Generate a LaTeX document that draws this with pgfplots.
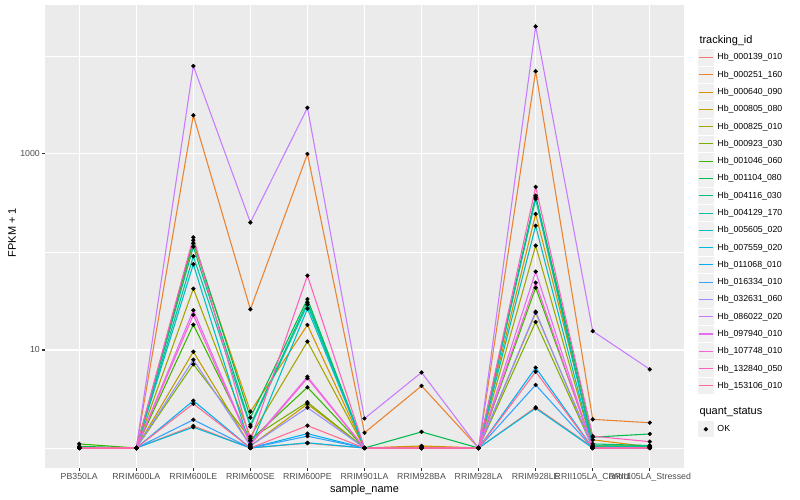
\documentclass[border=0pt]{standalone}
\usepackage{fontspec}
\setmainfont{Liberation Sans}
\usepackage{pgfplots}
\usepackage{pgfplotstable}
\pgfplotsset{compat=1.18}

% ggplot hue palette, 20 levels
\definecolor{c1}{HTML}{F8766D}
\definecolor{c2}{HTML}{EA8331}
\definecolor{c3}{HTML}{D89000}
\definecolor{c4}{HTML}{C09B00}
\definecolor{c5}{HTML}{A3A500}
\definecolor{c6}{HTML}{7CAE00}
\definecolor{c7}{HTML}{39B600}
\definecolor{c8}{HTML}{00BB4E}
\definecolor{c9}{HTML}{00BF7D}
\definecolor{c10}{HTML}{00C1A3}
\definecolor{c11}{HTML}{00BFC4}
\definecolor{c12}{HTML}{00BAE0}
\definecolor{c13}{HTML}{00B0F6}
\definecolor{c14}{HTML}{35A2FF}
\definecolor{c15}{HTML}{9590FF}
\definecolor{c16}{HTML}{C77CFF}
\definecolor{c17}{HTML}{E76BF3}
\definecolor{c18}{HTML}{FA62DB}
\definecolor{c19}{HTML}{FF62BC}
\definecolor{c20}{HTML}{FF6C91}
\definecolor{panelbg}{HTML}{EBEBEB}
\definecolor{keybg}{HTML}{F0F0F0}
\definecolor{grey30}{HTML}{4D4D4D}
\definecolor{grey20}{HTML}{333333}

% FPKM + 1, one row per sample, one column per tracking_id
\pgfplotstableread{
x  s1   s2    s3   s4   s5   s6   s7   s8   s9   s10  s11  s12  s13  s14  s15  s16   s17  s18  s19  s20
0  1    1     1    1    1    1    1.1  1.04 1    1    1    1    1    1    1    1     1    1    1    1
1  1    1     1    1    1    1    1    1    1    1    1    1    1    1    1    1     1    1    1    1
2  1.68 2480  123  9.6  42.2 7.15 18.1 132  113  90.4 74.9 1.63 3.04 1.94 7.96 7900  25.4 22.8 141  2.83
3  1.0  26    2.35 1.05 1.30 1.24 1.2  2.04 1.72 1.65 1.03 1.0  1.0  1.0  1.05 200   1.10 1.08 1.18 1.0
4  1.12 1000  18.0 2.81 12.2 2.93 4.16 33.1 30.7 29.0 26.4 1.13 1.40 1.32 2.58 2960  5.34 5.15 57.3 1.69
5  1    1.43  1    1    1    1    1    1    1    1    1    1    1    1    1    2.0   1    1    1    1
6  1    4.3   1.05 1.03 1    1    1    1.46 1    1    1    1    1    1    1    5.9   1    1    1    1
7  1    1     1    1    1    1    1    1    1    1    1    1    1    1    1    1     1    1    1    1
8  2.60 6980  244  24.0 116  19.3 43.2 375  362  347  185  2.54 6.6  4.4  24.6 20000 63   48.6 461  6.0
9  1.02 1.96  1.21 1.04 1.03 1.01 1.05 1.29 1.1  1.05 1.02 1.0  1.0  1.0  1.0  15.6  1.0  1.0  1.32 1.0
10 1.02 1.81  1.03 1.05 1.04 1.03 1.05 1.39 1.06 1.02 1.02 1.0  1.0  1.0  1.0  6.35  1.01 1.0  1.16 1.0
}\fpkm

\begin{document}
\begin{tikzpicture}
\useasboundingbox (0,0) rectangle (800bp,500bp);
\begin{axis}[
    at={(45bp,32bp)}, anchor=south west,
    scale only axis,
    width=639bp, height=463bp,
    ymode=log,
    xmin=-0.6, xmax=10.6,
    ymin=0.625, ymax=33100,
    axis background/.style={fill=panelbg},
    axis line style={draw=none},
    xtick={0,...,10},
    xticklabels={PB350LA,RRIM600LA,RRIM600LE,RRIM600SE,RRIM600PE,RRIM901LA,RRIM928BA,RRIM928LA,RRIM928LE,RRII105LA\_Control,RRII105LA\_Stressed},
    ytick={10,1000},
    yticklabels={10,1000},
    minor ytick={1,100,10000},
    grid=both,
    major grid style={white, line width=1.07bp},
    minor grid style={white, line width=0.53bp},
    tick align=outside,
    xtick pos=bottom, ytick pos=left,
    major tick length=2.75bp, minor tick length=0pt,
    major tick style={grey20, line width=1.07bp},
    tick label style={font=\fontsize{8.8}{10}\selectfont, text=grey30},
    xticklabel style={inner sep=0pt, anchor=north, yshift=-2.2bp},
    yticklabel style={inner sep=0pt, anchor=east, xshift=-2.2bp},
    legend image code/.code={
        \path[draw=none, fill=none] (0bp,-8.64bp) rectangle (17.28bp,8.64bp);
        \fill[keybg, draw=none] (0.5bp,-8.14bp) rectangle (16.78bp,8.14bp);
        \draw[#1] (1.73bp,0bp) -- (15.55bp,0bp);
    },
    legend style={at={(1,1)}, anchor=north west, xshift=13bp, yshift=-43.7bp,
        draw=none, fill=none, inner sep=0pt, row sep=0pt,
        font=\fontsize{8.8}{10}\selectfont,
        nodes={inner sep=0pt},
        /tikz/every odd column/.append style={column sep=3bp}},
    legend cell align=left,
    legend entries={Hb\_000139\_010,Hb\_000251\_160,Hb\_000640\_090,Hb\_000805\_080,Hb\_000825\_010,Hb\_000923\_030,Hb\_001046\_060,Hb\_001104\_080,Hb\_004116\_030,Hb\_004129\_170,Hb\_005605\_020,Hb\_007559\_020,Hb\_011068\_010,Hb\_016334\_010,Hb\_032631\_060,Hb\_086022\_020,Hb\_097940\_010,Hb\_107748\_010,Hb\_132840\_050,Hb\_153106\_010},
]
\pgfplotsinvokeforeach{1,...,20}{
    \addplot[c#1, line width=1.07bp] table[x=x, y=s#1]{\fpkm};
}
\pgfplotsinvokeforeach{1,...,20}{
    \addplot[only marks, mark=*, mark size=1.95bp, black, forget plot] table[x=x, y=s#1]{\fpkm};
}
\end{axis}
% second, empty axis only for the quant_status legend
\begin{axis}[
    at={(45bp,32bp)}, anchor=south west,
    scale only axis, width=639bp, height=463bp,
    hide axis, xmin=0, xmax=1, ymin=0, ymax=1,
    legend style={at={(1,1)}, anchor=north west, xshift=13bp, yshift=-415.4bp,
        draw=none, fill=none, inner sep=0pt, row sep=0pt,
        font=\fontsize{8.8}{10}\selectfont,
        nodes={inner sep=0pt},
        /tikz/every odd column/.append style={column sep=3bp}},
    legend cell align=left,
]
\addlegendimage{legend image code/.code={
    \path[draw=none, fill=none] (0bp,-8.64bp) rectangle (17.28bp,8.64bp);
    \fill[keybg, draw=none] (0.5bp,-8.14bp) rectangle (16.78bp,8.14bp);
    \draw[black, mark=*, mark size=1.95bp] plot coordinates {(8.64bp,0bp)};
}}
\addlegendentry{OK}
\end{axis}
\node[anchor=west, font=\fontsize{11}{13}\selectfont] at (696bp,459.3bp) {tracking\_id};
\node[anchor=west, font=\fontsize{11}{13}\selectfont] at (696bp,88bp) {quant\_status};
\node[font=\fontsize{11}{13}\selectfont] at (364.5bp,10bp) {sample\_name};
\node[rotate=90, font=\fontsize{11}{13}\selectfont] at (12bp,267.5bp) {FPKM + 1};
\end{tikzpicture}
\end{document}
